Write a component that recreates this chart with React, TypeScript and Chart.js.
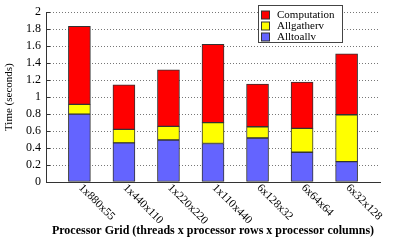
import React, { useEffect, useRef } from "react";
import { Chart, registerables } from "chart.js";

Chart.register(...registerables);

const categories = ["1x880x55", "1x440x110", "1x220x220", "1x110x440", "6x128x32", "6x64x64", "6x32x128"];
const alltoallv = [0.80, 0.46, 0.495, 0.453, 0.518, 0.35, 0.24];
const allgatherv = [0.115, 0.16, 0.16, 0.247, 0.133, 0.282, 0.552];
const computation = [0.92, 0.525, 0.667, 0.923, 0.503, 0.545, 0.717];
const yTicks = [0, 0.2, 0.4, 0.6, 0.8, 1, 1.2, 1.4, 1.6, 1.8, 2];

const RED = "#ff0000";
const YELLOW = "#ffff00";
const BLUE = "#6464ff";
const FONT = "'Liberation Serif', 'Times New Roman', serif";

const legendItems = [
  { label: "Computation", color: RED },
  { label: "Allgatherv", color: YELLOW },
  { label: "Alltoallv", color: BLUE },
];

const overlayPlugin = {
  id: "overlay",
  afterDraw(chart: any) {
    const ctx = chart.ctx;
    const xs = chart.scales.x;
    const ys = chart.scales.y;
    // inward y tick marks
    ctx.save();
    ctx.strokeStyle = "#333";
    ctx.lineWidth = 1;
    yTicks.forEach((v) => {
      const y = Math.round(ys.getPixelForValue(v)) + 0.5;
      ctx.beginPath();
      ctx.moveTo(xs.left, y);
      ctx.lineTo(xs.left + 4, y);
      ctx.stroke();
    });
    ctx.restore();
    // rotated x tick labels
    ctx.save();
    ctx.fillStyle = "#000";
    ctx.font = `11.5px ${FONT}`;
    categories.forEach((c, i) => {
      const x = xs.getPixelForValue(i);
      ctx.save();
      ctx.translate(x + 1, ys.bottom + 4);
      ctx.rotate(Math.PI / 4);
      ctx.textAlign = "left";
      ctx.textBaseline = "middle";
      ctx.fillText(c, 0, 0);
      ctx.restore();
    });
    ctx.restore();

    // legend box
    ctx.save();
    const bx = 258.5, by = 5.5, bw = 84, bh = 37;
    ctx.fillStyle = "#fff";
    ctx.fillRect(bx, by, bw, bh);
    ctx.strokeStyle = "#444";
    ctx.lineWidth = 1;
    ctx.strokeRect(bx, by, bw, bh);
    ctx.font = `11px ${FONT}`;
    ctx.textAlign = "left";
    ctx.textBaseline = "middle";
    legendItems.forEach((it, i) => {
      const cy = 15 + i * 11;
      ctx.fillStyle = it.color;
      ctx.fillRect(261.5, cy - 4, 8, 8);
      ctx.strokeStyle = "#333";
      ctx.strokeRect(261.5, cy - 4, 8, 8);
      ctx.fillStyle = "#000";
      ctx.fillText(it.label, 277, cy);
    });
    ctx.restore();
  },
};

export default function App() {
  const ref = useRef<HTMLCanvasElement>(null);
  useEffect(() => {
    document.body.style.margin = "0";
    const mk = (arr: number[]) => arr.map((v, i) => ({ x: i, y: v }));
    const common = { borderColor: "#333", borderWidth: 1, barThickness: 22, borderSkipped: false };
    const chart = new Chart(ref.current!, {
      type: "bar",
      data: {
        datasets: [
          { label: "Alltoallv", data: mk(alltoallv), backgroundColor: BLUE, ...common },
          { label: "Allgatherv", data: mk(allgatherv), backgroundColor: YELLOW, ...common },
          { label: "Computation", data: mk(computation), backgroundColor: RED, ...common },
        ] as any,
      },
      options: {
        responsive: false,
        animation: false,
        layout: { padding: { top: 7, right: 35, bottom: 0, left: 0 } },
        plugins: { legend: { display: false }, tooltip: { enabled: false } },
        scales: {
          x: {
            type: "linear",
            stacked: true,
            offset: false,
            min: -0.75,
            max: 6.75,
            ticks: { display: false },
            grid: { display: false },
            border: { display: true, color: "#333", width: 1 },
            title: {
              display: true,
              text: "Processor Grid (threads x processor rows x processor columns)",
              color: "#000",
              font: { family: FONT, size: 12, weight: "bold" },
              padding: { top: 0, bottom: 3 },
            },
            afterFit: (s: any) => { s.height = 59; },
          },
          y: {
            stacked: true,
            min: 0,
            max: 2,
            afterBuildTicks: (s: any) => { s.ticks = yTicks.map((v) => ({ value: v })); },
            ticks: {
              color: "#000",
              padding: 5,
              autoSkip: false,
              font: { family: FONT, size: 12 },
              callback: (v: any) => String(Math.round(Number(v) * 10) / 10),
            },
            grid: {
              drawTicks: false,
              color: (c: any) => (c.tick && c.tick.value === 0 ? "rgba(0,0,0,0)" : "#777"),
              lineWidth: 1,
            },
            border: { display: true, color: "#333", width: 1, dash: [1, 2] as any },
            title: {
              display: true,
              text: "Time (seconds)",
              color: "#000",
              font: { family: FONT, size: 11 },
              padding: { top: 3, bottom: 0 },
            },
            afterFit: (s: any) => { s.width = 46; },
          },
        },
      } as any,
      plugins: [overlayPlugin],
    });
    return () => chart.destroy();
  }, []);
  return (
    <div style={{ width: 415, height: 241 }}>
      <canvas ref={ref} width={415} height={241} />
    </div>
  );
}
